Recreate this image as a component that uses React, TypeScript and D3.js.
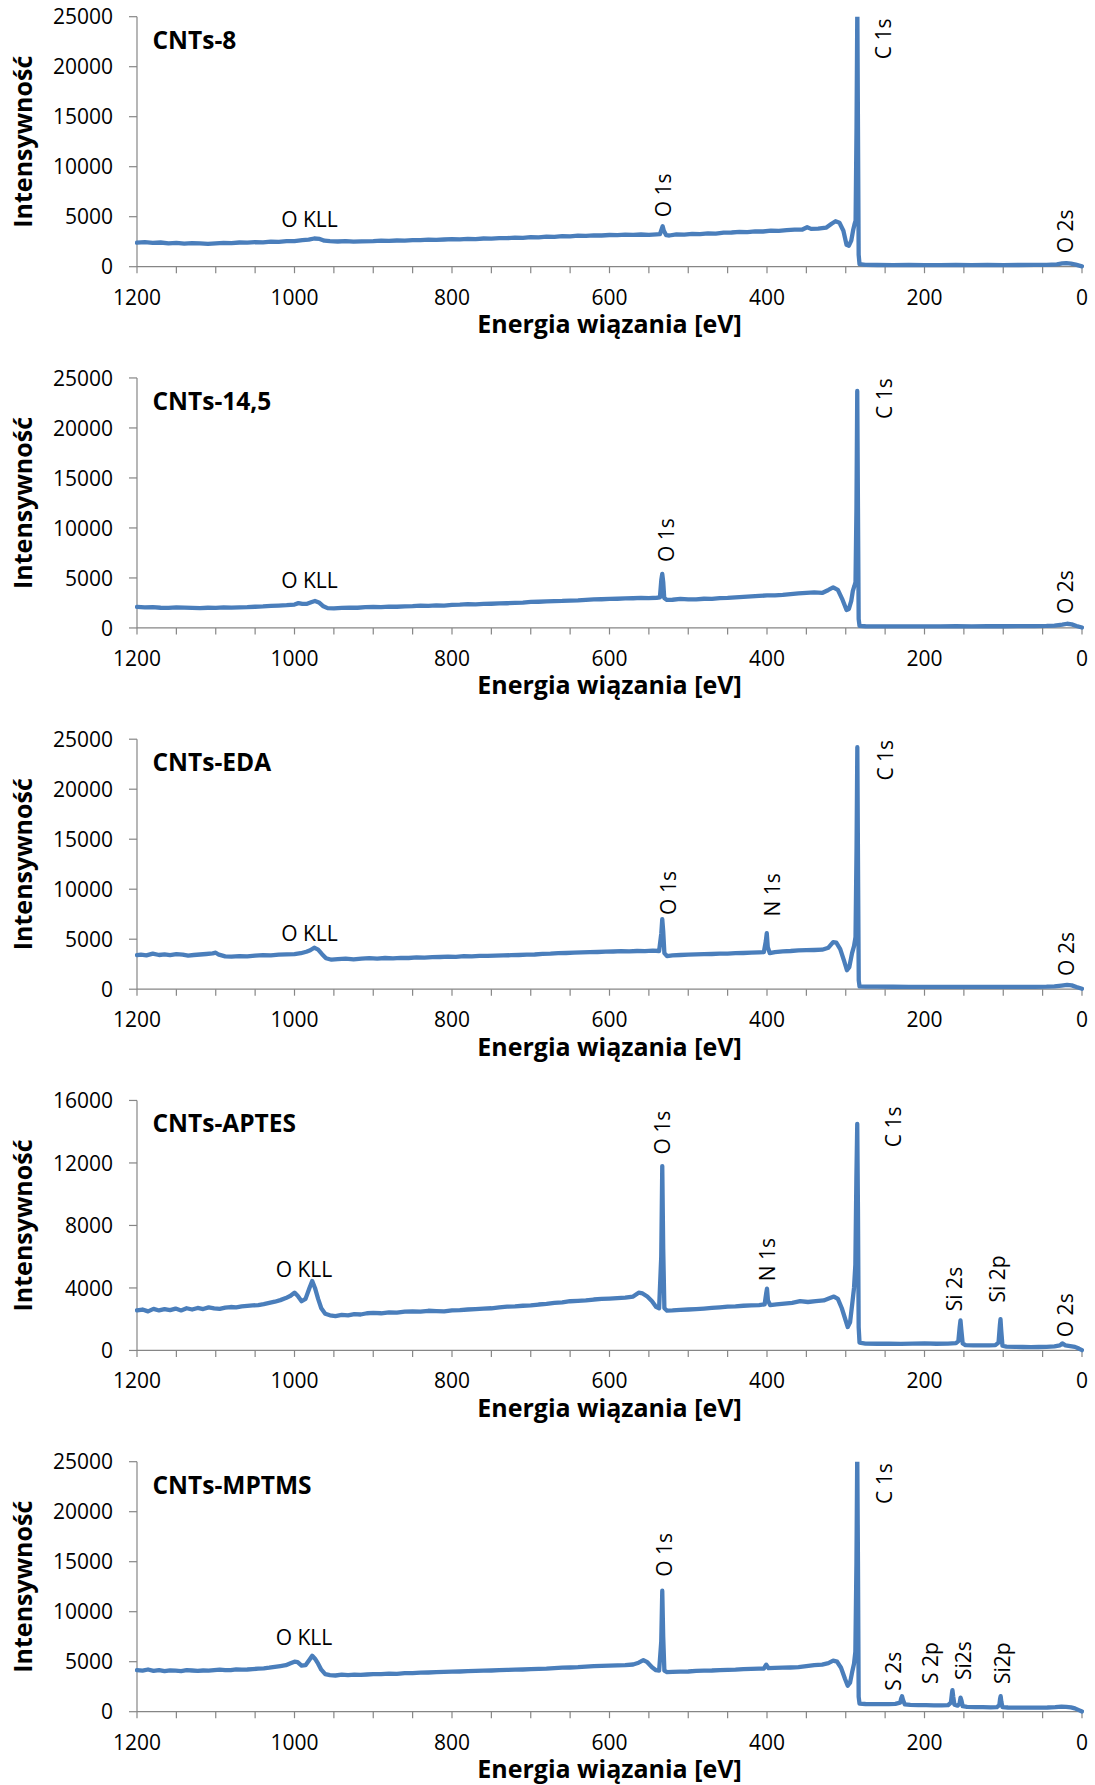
import React from 'react';
import * as d3 from 'd3';

type Pt = [number, number];
type Ann = { text: string; ev: number; count: number; vertical: boolean };

const sampleNames = ['CNTs-8', 'CNTs-14,5', 'CNTs-EDA', 'CNTs-APTES', 'CNTs-MPTMS'];
const xLabelTicks = [1200, 1000, 800, 600, 400, 200, 0];
const yMax = [25000, 25000, 25000, 16000, 25000];
const yTicksA = [0, 5000, 10000, 15000, 20000, 25000];
const yTicksB = [0, 4000, 8000, 12000, 16000];
const xTitle = 'Energia wiązania [eV]';
const yTitle = 'Intensywność';

const specCNTs8: Pt[] = [
  [1200, 2400], [1190, 2450], [1180, 2380], [1170, 2420], [1160, 2330], [1150, 2380], [1140, 2300], [1130, 2360],
  [1120, 2340], [1110, 2290], [1100, 2330], [1090, 2380], [1080, 2350], [1070, 2420], [1060, 2400], [1050, 2450],
  [1040, 2430], [1030, 2500], [1020, 2480], [1010, 2550], [1000, 2560], [990, 2650], [982, 2700], [975, 2820],
  [968, 2780], [962, 2600], [955, 2550], [945, 2520], [935, 2560], [925, 2500], [915, 2540], [900, 2560],
  [890, 2600], [880, 2580], [870, 2620], [860, 2600], [850, 2660], [840, 2650], [830, 2700], [820, 2690],
  [810, 2720], [800, 2750], [790, 2730], [780, 2780], [770, 2760], [760, 2820], [750, 2800], [740, 2860],
  [730, 2850], [720, 2900], [710, 2880], [700, 2950], [690, 2930], [680, 3000], [670, 2980], [660, 3050],
  [650, 3030], [640, 3100], [630, 3080], [620, 3130], [610, 3120], [600, 3170], [590, 3150], [580, 3200],
  [570, 3180], [560, 3220], [550, 3190], [540, 3230], [536, 3250], [534, 3700], [532.5, 4050], [531, 3600],
  [528, 3150], [524, 3120], [515, 3230], [505, 3200], [495, 3280], [485, 3250], [475, 3330], [465, 3300],
  [455, 3400], [445, 3420], [435, 3480], [425, 3460], [415, 3540], [405, 3520], [395, 3600], [385, 3580],
  [375, 3650], [365, 3700], [355, 3720], [349, 3950], [344, 3780], [335, 3800], [325, 3900], [318, 4300],
  [313, 4550], [308, 4400], [303, 3600], [299, 2200], [296, 2100], [293, 2600], [290.5, 3700], [289, 4200],
  [287.5, 4600], [286.3, 14000], [285.3, 26000], [284.5, 14000], [283.6, 1200], [282.5, 250], [275, 180],
  [260, 170], [240, 165], [220, 170], [200, 160], [180, 165], [160, 170], [140, 165], [120, 170],
  [100, 165], [80, 170], [60, 175], [45, 190], [32, 240], [25, 330], [20, 360], [14, 300], [8, 200], [0, 40],
];

const specCNTs145: Pt[] = [
  [1200, 2100], [1190, 2060], [1180, 2080], [1170, 2020], [1160, 2000], [1150, 2050], [1140, 2030], [1130, 2000],
  [1120, 1980], [1110, 2020], [1100, 2000], [1090, 2050], [1080, 2040], [1070, 2060], [1060, 2080], [1050, 2120],
  [1040, 2150], [1030, 2200], [1020, 2240], [1010, 2280], [1000, 2340], [995, 2480], [990, 2400], [984, 2420],
  [978, 2600], [974, 2700], [969, 2550], [964, 2200], [958, 1980], [950, 1960], [940, 2000], [930, 2040],
  [920, 2020], [910, 2080], [900, 2100], [890, 2080], [880, 2140], [870, 2120], [860, 2160], [850, 2180],
  [840, 2230], [830, 2210], [820, 2250], [810, 2240], [800, 2300], [790, 2330], [780, 2380], [770, 2360],
  [760, 2400], [750, 2420], [740, 2450], [730, 2470], [720, 2500], [710, 2540], [700, 2600], [690, 2620],
  [680, 2650], [670, 2680], [660, 2700], [650, 2740], [640, 2760], [630, 2800], [620, 2850], [610, 2870],
  [600, 2900], [590, 2920], [580, 2950], [570, 2970], [560, 3000], [550, 2990], [540, 3020], [536, 3050],
  [534.2, 4800], [533, 5400], [531.8, 4600], [530.5, 3000], [527, 2800], [520, 2820], [510, 2900], [500, 2860],
  [490, 2850], [480, 2920], [470, 2900], [460, 2980], [450, 3000], [440, 3060], [430, 3100], [420, 3150],
  [410, 3200], [400, 3250], [390, 3260], [380, 3300], [370, 3380], [360, 3450], [350, 3500], [340, 3550],
  [330, 3500], [322, 3800], [316, 4050], [310, 3800], [304, 2800], [299, 1800], [296, 1900], [293, 2700],
  [291, 3700], [289, 4200], [287.6, 4600], [286.4, 12000], [285.4, 23700], [284.5, 12000], [283.6, 900],
  [282.5, 200], [275, 170], [260, 160], [240, 165], [220, 160], [200, 165], [180, 160], [160, 170], [140, 165],
  [120, 170], [100, 170], [80, 175], [60, 180], [45, 200], [35, 240], [25, 330], [19, 420], [13, 360], [7, 200], [0, 40],
];

const specCNTsEDA: Pt[] = [
  [1200, 3400], [1195, 3450], [1188, 3380], [1180, 3550], [1172, 3420], [1165, 3480], [1158, 3400], [1150, 3500],
  [1142, 3450], [1135, 3350], [1128, 3420], [1120, 3470], [1112, 3520], [1104, 3580], [1100, 3650], [1096, 3450],
  [1088, 3280], [1080, 3250], [1070, 3300], [1060, 3280], [1050, 3350], [1040, 3400], [1030, 3380], [1020, 3450],
  [1010, 3480], [1000, 3500], [992, 3600], [985, 3750], [980, 3900], [975, 4150], [970, 3950], [965, 3500],
  [960, 3100], [953, 2950], [945, 3000], [935, 3050], [925, 2980], [915, 3050], [905, 3100], [895, 3060],
  [885, 3120], [875, 3080], [865, 3140], [855, 3120], [845, 3180], [835, 3150], [825, 3200], [815, 3220],
  [805, 3250], [795, 3240], [785, 3300], [775, 3280], [765, 3340], [755, 3330], [745, 3360], [735, 3380],
  [725, 3400], [715, 3420], [705, 3450], [695, 3470], [685, 3540], [675, 3560], [665, 3600], [655, 3620],
  [645, 3650], [635, 3680], [625, 3700], [615, 3720], [605, 3750], [595, 3770], [585, 3800], [575, 3790],
  [565, 3820], [555, 3810], [545, 3850], [537, 3820], [534.2, 5600], [533, 7000], [531.8, 5800], [530.3, 3600],
  [527, 3300], [520, 3380], [510, 3420], [500, 3450], [490, 3480], [480, 3500], [470, 3520], [460, 3550],
  [450, 3560], [440, 3600], [430, 3620], [420, 3650], [410, 3680], [404, 3700], [401.5, 4800], [400.3, 5600],
  [399, 4200], [396.5, 3600], [390, 3700], [380, 3780], [370, 3820], [360, 3880], [350, 3900], [340, 3920],
  [330, 3950], [322, 4150], [316, 4700], [312, 4650], [307, 4000], [302, 2800], [298.5, 1900], [295.5, 2200],
  [292, 3600], [289.5, 4300], [287.6, 5200], [286.3, 14000], [285.3, 24200], [284.4, 12000], [283.5, 900],
  [282.5, 280], [275, 260], [260, 250], [240, 245], [220, 240], [200, 235], [180, 240], [160, 230], [140, 235],
  [120, 230], [100, 225], [80, 230], [60, 235], [45, 250], [35, 280], [26, 360], [19, 430], [13, 380], [7, 220], [0, 50],
];

const specCNTsAPTES: Pt[] = [
  [1200, 2560], [1193, 2620], [1186, 2500], [1179, 2660], [1172, 2560], [1165, 2640], [1158, 2580], [1151, 2680],
  [1144, 2560], [1137, 2700], [1130, 2620], [1123, 2720], [1116, 2650], [1109, 2760], [1102, 2700], [1095, 2660],
  [1088, 2740], [1081, 2780], [1074, 2760], [1067, 2820], [1060, 2850], [1053, 2880], [1046, 2900], [1039, 2960],
  [1032, 3040], [1025, 3120], [1018, 3220], [1011, 3350], [1005, 3500], [1000, 3700], [996, 3500], [991, 3150],
  [986, 3300], [981, 4000], [977.5, 4450], [974, 4000], [970, 3300], [966, 2700], [961, 2350], [955, 2250],
  [948, 2200], [940, 2280], [932, 2250], [924, 2330], [916, 2300], [908, 2380], [900, 2400], [890, 2380],
  [880, 2440], [870, 2420], [860, 2480], [850, 2500], [840, 2480], [830, 2540], [820, 2520], [810, 2500],
  [800, 2560], [790, 2580], [780, 2620], [770, 2650], [760, 2680], [750, 2700], [740, 2760], [730, 2800],
  [720, 2820], [710, 2860], [700, 2880], [690, 2940], [680, 2980], [670, 3040], [660, 3080], [650, 3150],
  [640, 3170], [630, 3200], [620, 3260], [610, 3300], [600, 3320], [590, 3350], [580, 3380], [570, 3450],
  [563, 3700], [558, 3650], [552, 3450], [546, 3150], [541, 2800], [537, 2700], [534.3, 6000], [533, 11800],
  [531.8, 6500], [530.3, 2700], [527, 2550], [520, 2560], [510, 2600], [500, 2620], [490, 2650], [480, 2680],
  [470, 2720], [460, 2760], [450, 2800], [440, 2820], [430, 2860], [420, 2880], [410, 2900], [403, 2950],
  [401.2, 3600], [400, 3950], [398.8, 3200], [396, 2900], [388, 2950], [378, 3000], [368, 3050], [358, 3150],
  [348, 3100], [338, 3150], [328, 3200], [320, 3350], [315, 3450], [310, 3300], [305, 2700], [300, 1900],
  [297.5, 1500], [294.5, 1800], [291.5, 3100], [289.5, 4000], [287.8, 5500], [286.5, 11000], [285.4, 14500],
  [284.5, 9000], [283.6, 1500], [282.5, 500], [275, 440], [260, 430], [245, 440], [230, 420], [215, 440],
  [200, 450], [185, 430], [170, 440], [160, 470], [157, 600], [155.3, 1500], [154.3, 1920], [153.2, 1300],
  [151.5, 450], [148, 340], [138, 330], [128, 320], [118, 330], [110, 340], [106, 500], [104.3, 1600],
  [103.5, 2000], [102.6, 1300], [101, 300], [96, 240], [85, 230], [75, 220], [65, 215], [55, 220], [45, 230],
  [35, 260], [28, 320], [25, 450], [21, 330], [15, 280], [9, 230], [4, 120], [0, 20],
];

const specCNTsMPTMS: Pt[] = [
  [1200, 4150], [1193, 4100], [1186, 4220], [1179, 4080], [1172, 4160], [1165, 4050], [1158, 4140], [1151, 4100],
  [1144, 4060], [1137, 4150], [1130, 4120], [1123, 4080], [1116, 4120], [1109, 4100], [1102, 4150], [1095, 4200],
  [1088, 4160], [1081, 4150], [1074, 4240], [1067, 4200], [1060, 4220], [1053, 4260], [1046, 4300], [1039, 4340],
  [1032, 4400], [1025, 4480], [1018, 4560], [1011, 4650], [1005, 4850], [1000, 5000], [996, 4950], [991, 4600],
  [986, 4650], [981, 5200], [977.5, 5600], [974, 5300], [970, 4800], [966, 4200], [961, 3750], [955, 3650],
  [948, 3620], [940, 3700], [932, 3650], [924, 3700], [916, 3680], [908, 3720], [900, 3760], [890, 3750],
  [880, 3800], [870, 3790], [860, 3850], [850, 3860], [840, 3900], [830, 3920], [820, 3950], [810, 3980],
  [800, 4000], [790, 4020], [780, 4050], [770, 4080], [760, 4100], [750, 4120], [740, 4150], [730, 4180],
  [720, 4200], [710, 4220], [700, 4250], [690, 4280], [680, 4300], [670, 4360], [660, 4400], [650, 4420],
  [640, 4450], [630, 4500], [620, 4550], [610, 4580], [600, 4600], [590, 4630], [580, 4650], [570, 4720],
  [563, 4900], [557, 5150], [552, 4950], [546, 4450], [541, 4150], [537, 4100], [534.3, 7000], [533, 12100],
  [531.8, 7500], [530.3, 4100], [527, 3950], [520, 3980], [510, 4000], [500, 4020], [490, 4080], [480, 4100],
  [470, 4120], [460, 4160], [450, 4180], [440, 4200], [430, 4250], [420, 4280], [410, 4300], [404, 4320],
  [401, 4700], [398, 4350], [390, 4380], [380, 4400], [370, 4420], [360, 4450], [350, 4550], [340, 4650],
  [330, 4700], [322, 4850], [316, 5100], [311, 5000], [306, 4400], [301, 3300], [297.5, 2600], [294.5, 2900],
  [291.5, 4100], [289.5, 4800], [287.8, 6000], [286.4, 15000], [285.4, 26000], [284.5, 15000], [283.6, 1500],
  [282.5, 800], [275, 770], [265, 760], [255, 750], [245, 760], [237, 780], [231, 900], [229.5, 1350],
  [228.5, 1550], [227, 1100], [225, 730], [218, 680], [208, 660], [198, 650], [188, 640], [178, 630],
  [170, 650], [166.5, 900], [165.2, 1800], [164.5, 2150], [163.5, 1500], [162, 700], [158, 600], [155.5, 800],
  [154.2, 1400], [153, 1100], [151.5, 550], [146, 480], [136, 460], [126, 450], [116, 440], [108, 450],
  [105, 650], [104, 1300], [103.3, 1550], [102.4, 1000], [101, 450], [94, 420], [84, 410], [74, 400],
  [64, 405], [54, 410], [44, 420], [34, 450], [26, 500], [20, 490], [14, 430], [9, 330], [4, 160], [0, 30],
];

const spectra: Pt[][] = [specCNTs8, specCNTs145, specCNTsEDA, specCNTsAPTES, specCNTsMPTMS];

const labelsCNTs8: Ann[] = [
  { text: 'O KLL', ev: 981, count: 4000, vertical: false },
  { text: 'O 1s', ev: 522, count: 4940, vertical: true },
  { text: 'C 1s', ev: 242.5, count: 20740, vertical: true },
  { text: 'O 2s', ev: 11.4, count: 1340, vertical: true },
];
const labelsCNTs145: Ann[] = [
  { text: 'O KLL', ev: 981, count: 4000, vertical: false },
  { text: 'O 1s', ev: 518, count: 6600, vertical: true },
  { text: 'C 1s', ev: 241.7, count: 20900, vertical: true },
  { text: 'O 2s', ev: 11.4, count: 1400, vertical: true },
];
const labelsCNTsEDA: Ann[] = [
  { text: 'O KLL', ev: 981, count: 4860, vertical: false },
  { text: 'O 1s', ev: 515.6, count: 7430, vertical: true },
  { text: 'N 1s', ev: 383.5, count: 7260, vertical: true },
  { text: 'C 1s', ev: 240.6, count: 20860, vertical: true },
  { text: 'O 2s', ev: 10.2, count: 1330, vertical: true },
];
const labelsCNTsAPTES: Ann[] = [
  { text: 'O KLL', ev: 988, count: 4690, vertical: false },
  { text: 'O 1s', ev: 522.7, count: 12540, vertical: true },
  { text: 'N 1s', ev: 389.8, count: 4435, vertical: true },
  { text: 'C 1s', ev: 229.8, count: 13010, vertical: true },
  { text: 'Si 2s', ev: 152.8, count: 2515, vertical: true },
  { text: 'Si 2p', ev: 97.8, count: 3072, vertical: true },
  { text: 'O 2s', ev: 11.1, count: 850, vertical: true },
];
const labelsCNTsMPTMS: Ann[] = [
  { text: 'O KLL', ev: 988, count: 6700, vertical: false },
  { text: 'O 1s', ev: 520.9, count: 13500, vertical: true },
  { text: 'C 1s', ev: 241.7, count: 20770, vertical: true },
  { text: 'S 2s', ev: 230.2, count: 2100, vertical: true },
  { text: 'S 2p', ev: 182.5, count: 2770, vertical: true },
  { text: 'Si2s', ev: 141, count: 3170, vertical: true },
  { text: 'Si2p', ev: 91.4, count: 2770, vertical: true },
];
const labels: Ann[][] = [labelsCNTs8, labelsCNTs145, labelsCNTsEDA, labelsCNTsAPTES, labelsCNTsMPTMS];

const FONT = "'Open Sans', 'DejaVu Sans', sans-serif";
const LINE = '#4a7ebb';
const AXIS = '#868686';

function Panel({ i }: { i: number }) {
  const left = 137;
  const right = 1082;
  const top = 16.7 + i * 361.25;
  const h = 250;
  const bottom = top + h;
  const x = d3.scaleLinear().domain([1200, 0]).range([left, right]);
  const y = d3.scaleLinear().domain([0, yMax[i]]).range([bottom, top]);
  const yt = yMax[i] === 16000 ? yTicksB : yTicksA;
  const minor = d3.range(0, 1201, 50);
  const line = d3
    .line<Pt>()
    .x((d) => x(d[0]))
    .y((d) => y(d[1]));
  const clipId = `clip${i}`;
  return (
    <g>
      <defs>
        <clipPath id={clipId}>
          <rect x={left - 2} y={top} width={right - left + 4} height={h + 3} />
        </clipPath>
      </defs>
      <line x1={left} x2={left} y1={top} y2={bottom} stroke={AXIS} strokeWidth={1.2} />
      <line x1={left} x2={right} y1={bottom} y2={bottom} stroke={AXIS} strokeWidth={1.2} />
      {yt.map((t) => (
        <g key={`y${t}`}>
          <line x1={left - 8} x2={left} y1={y(t)} y2={y(t)} stroke={AXIS} strokeWidth={1.2} />
          <text x={left - 24} y={y(t)} dy="0.36em" textAnchor="end" fontSize={21} fontFamily={FONT} fill="#000">
            {t}
          </text>
        </g>
      ))}
      {minor.map((t) => (
        <line key={`m${t}`} x1={x(t)} x2={x(t)} y1={bottom} y2={bottom + 6.5} stroke={AXIS} strokeWidth={1.2} />
      ))}
      {xLabelTicks.map((t) => (
        <text key={`x${t}`} x={x(t)} y={bottom + 38} textAnchor="middle" fontSize={21} fontFamily={FONT} fill="#000">
          {t}
        </text>
      ))}
      <text
        x={(left + right) / 2}
        y={bottom + 66.5}
        textAnchor="middle"
        fontSize={25}
        fontWeight="bold"
        fontFamily={FONT}
        fill="#000"
      >
        {xTitle}
      </text>
      <text
        transform={`translate(32,${(top + bottom) / 2}) rotate(-90)`}
        textAnchor="middle"
        fontSize={25}
        fontWeight="bold"
        fontFamily={FONT}
        fill="#000"
      >
        {yTitle}
      </text>
      <text x={152.5} y={top + 32} fontSize={24.5} fontWeight="bold" fontFamily={FONT} fill="#000">
        {sampleNames[i]}
      </text>
      <g clipPath={`url(#${clipId})`}>
        <path d={line(spectra[i]) || ''} fill="none" stroke={LINE} strokeWidth={4.3} strokeLinejoin="round" strokeLinecap="round" />
      </g>
      {labels[i].map((a, k) =>
        a.vertical ? (
          <text
            key={k}
            transform={`translate(${x(a.ev)},${y(a.count)}) rotate(-90)`}
            fontSize={21}
            fontFamily={FONT}
            fill="#000"
          >
            {a.text}
          </text>
        ) : (
          <text key={k} x={x(a.ev)} y={y(a.count)} textAnchor="middle" fontSize={21} fontFamily={FONT} fill="#000">
            {a.text}
          </text>
        )
      )}
    </g>
  );
}

export default function App() {
  return (
    <svg
      width={1095}
      height={1785}
      viewBox="0 0 1095 1785"
      style={{ position: 'absolute', left: 0, top: 0, display: 'block', background: '#fff' }}
    >
      <rect x={0} y={0} width={1095} height={1785} fill="#fff" />
      {sampleNames.map((_, i) => (
        <Panel key={i} i={i} />
      ))}
    </svg>
  );
}
